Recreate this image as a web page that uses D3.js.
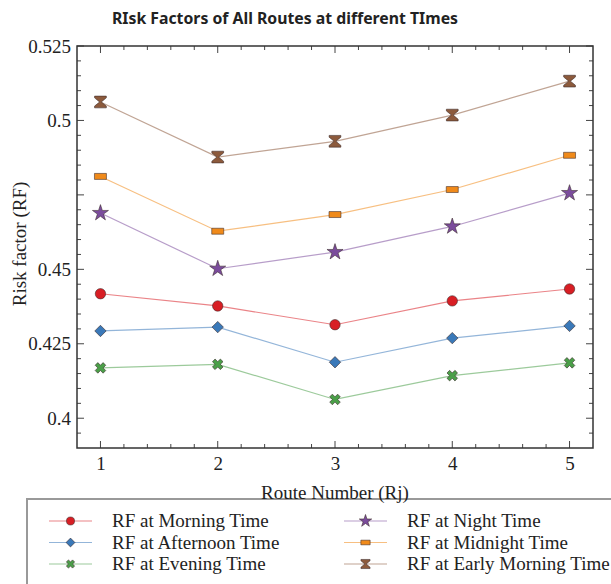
<!DOCTYPE html>
<html>
<head>
<meta charset="utf-8">
<script src="https://cdn.jsdelivr.net/npm/d3@7"></script>
<style>
  body { margin: 0; background: #fff; }
  svg text { fill: #222; }
  .serif { font-family: "Liberation Serif", "Times New Roman", serif; }
</style>
</head>
<body>
<div id="chart"></div>
<script>
// route numbers on the x axis
let routes = [1, 2, 3, 4, 5];

// risk factor per route, one array per time of day
let morning = [0.4418, 0.4377, 0.4314, 0.4394, 0.4434];
let afternoon = [0.4293, 0.4306, 0.4188, 0.4269, 0.4310];
let evening = [0.4169, 0.4181, 0.4063, 0.4143, 0.4186];
let night = [0.4689, 0.4502, 0.4558, 0.4644, 0.4756];
let midnight = [0.4812, 0.4628, 0.4684, 0.4768, 0.4883];
let earlyMorning = [0.5062, 0.4877, 0.4930, 0.5018, 0.5132];

let seriesNames = ["RF at Morning Time", "RF at Afternoon Time", "RF at Evening Time",
  "RF at Night Time", "RF at Midnight Time", "RF at Early Morning Time"];

let yTickLabels = [0.4, 0.425, 0.45, 0.5, 0.525];
let yMajorTicks = [0.4, 0.425, 0.45, 0.475, 0.5, 0.525];

document.addEventListener("DOMContentLoaded", function () {
  let W = 611, H = 584;
  let margin = { top: 46, right: 15, bottom: 136, left: 77 };

  // custom marker shapes
  let rectSym = {
    draw: function (ctx, size) {
      let w = Math.sqrt(size) * 1.3, h = w * 0.5;
      ctx.rect(-w / 2, -h / 2, w, h);
    }
  };
  let hourglassSym = {
    draw: function (ctx, size) {
      let s = Math.sqrt(size) * 0.62;
      ctx.moveTo(-s, -s); ctx.lineTo(s, -s); ctx.lineTo(s, -s * 0.7);
      ctx.lineTo(s * 0.15, 0); ctx.lineTo(s, s * 0.7); ctx.lineTo(s, s);
      ctx.lineTo(-s, s); ctx.lineTo(-s, s * 0.7); ctx.lineTo(-s * 0.15, 0);
      ctx.lineTo(-s, -s * 0.7); ctx.closePath();
    }
  };

  let series = [
    { name: seriesNames[0], values: morning, color: "#d81e24", sym: d3.symbolCircle, size: 85, rot: 0 },
    { name: seriesNames[1], values: afternoon, color: "#3a79b9", sym: d3.symbolSquare, size: 65, rot: 45 },
    { name: seriesNames[2], values: evening, color: "#4a9f48", sym: d3.symbolCross, size: 70, rot: 45 },
    { name: seriesNames[3], values: night, color: "#7b4c9c", sym: d3.symbolStar, size: 80, rot: 0 },
    { name: seriesNames[4], values: midnight, color: "#f08a1a", sym: rectSym, size: 85, rot: 0 },
    { name: seriesNames[5], values: earlyMorning, color: "#8c5a3c", sym: hourglassSym, size: 90, rot: 0 }
  ];

  let svg = d3.select("#chart").append("svg")
    .attr("width", W)
    .attr("height", H);

  let x = d3.scaleLinear()
    .domain([0.8, 5.2])
    .range([margin.left, W - margin.right - 3]);

  let y = d3.scaleLinear()
    .domain([0.39, 0.525])
    .range([H - margin.bottom, margin.top]);

  let xMinor = d3.range(1, 5.2, 0.2).map(d => Math.round(d * 10) / 10).filter(d => routes.indexOf(d) < 0);
  let yMinor = d3.range(0.395, 0.525, 0.005).map(d => Math.round(d * 1000) / 1000)
    .filter(d => yMajorTicks.indexOf(d) < 0);

  let x0 = x.range()[0], x1 = x.range()[1], y0 = y.range()[0], y1 = y.range()[1];

  // ticks on all four sides, pointing inward
  let tickG = svg.append("g").attr("stroke", "#444").attr("stroke-width", 1);
  let drawTicks = function (vals, len) {
    vals.forEach(v => {
      tickG.append("line").attr("x1", x(v)).attr("x2", x(v)).attr("y1", y0).attr("y2", y0 - len);
      tickG.append("line").attr("x1", x(v)).attr("x2", x(v)).attr("y1", y1).attr("y2", y1 + len);
    });
  };
  let drawYTicks = function (vals, len) {
    vals.forEach(v => {
      tickG.append("line").attr("x1", x0).attr("x2", x0 + len).attr("y1", y(v)).attr("y2", y(v));
      tickG.append("line").attr("x1", x1).attr("x2", x1 - len).attr("y1", y(v)).attr("y2", y(v));
    });
  };
  drawTicks(xMinor, 4);
  drawTicks(routes, 7);
  drawYTicks(yMinor, 4);
  drawYTicks(yMajorTicks, 7);

  // tick labels
  let xAxis = d3.axisBottom(x).tickValues(routes).tickSize(0).tickPadding(9).tickFormat(d3.format("d"));
  svg.append("g")
    .attr("transform", "translate(0," + y0 + ")")
    .call(xAxis)
    .call(g => g.select(".domain").remove())
    .selectAll("text")
    .attr("class", "serif")
    .style("font-size", "19px")
    .style("fill", "#222");

  let yAxis = d3.axisLeft(y).tickValues(yTickLabels).tickSize(0).tickPadding(6).tickFormat(d => String(d));
  svg.append("g")
    .attr("transform", "translate(" + x0 + ",0)")
    .call(yAxis)
    .call(g => g.select(".domain").remove())
    .selectAll("text")
    .attr("class", "serif")
    .style("font-size", "19px")
    .style("fill", "#222");

  // frame
  svg.append("rect")
    .attr("x", x0).attr("y", y1)
    .attr("width", x1 - x0).attr("height", y0 - y1)
    .attr("fill", "none")
    .attr("stroke", "#333")
    .attr("stroke-width", 1.5);

  let line = d3.line()
    .x((d, i) => x(routes[i]))
    .y(d => y(d));

  series.forEach(s => {
    svg.append("path")
      .datum(s.values)
      .attr("d", line)
      .attr("fill", "none")
      .attr("stroke", s.color)
      .attr("stroke-opacity", 0.55)
      .attr("stroke-width", 1.2);

    svg.selectAll(null)
      .data(s.values)
      .enter().append("path")
      .attr("d", d3.symbol().type(s.sym).size(s.size))
      .attr("transform", (d, i) => "translate(" + x(routes[i]) + "," + y(d) + ") rotate(" + s.rot + ")")
      .attr("fill", s.color)
      .attr("stroke", "#3a2a2a")
      .attr("stroke-opacity", 0.7)
      .attr("stroke-width", 0.8);
  });

  // title
  svg.append("text")
    .attr("x", 285)
    .attr("y", 24)
    .attr("text-anchor", "middle")
    .attr("textLength", 346)
    .attr("lengthAdjust", "spacingAndGlyphs")
    .style("font-family", "'Noto Sans', 'Open Sans', sans-serif")
    .style("font-weight", "bold")
    .style("font-size", "16px")
    .text("RIsk Factors of All Routes at different TImes");

  // y label
  svg.append("text")
    .attr("class", "serif")
    .attr("transform", "translate(26," + 244 + ") rotate(-90)")
    .attr("text-anchor", "middle")
    .style("font-size", "19px")
    .text("Risk factor (RF)");

  // legend box
  svg.append("rect")
    .attr("x", 27).attr("y", 499)
    .attr("width", 620).attr("height", 110)
    .attr("fill", "none")
    .attr("stroke", "#999")
    .attr("stroke-width", 2);

  // x label sits over the legend border
  svg.append("text")
    .attr("class", "serif")
    .attr("x", (x0 + x1) / 2)
    .attr("y", 499)
    .attr("text-anchor", "middle")
    .style("font-size", "19px")
    .text("Route Number (Rj)");

  let legend = svg.append("g");
  series.forEach((s, i) => {
    let col = Math.floor(i / 3), row = i % 3;
    let lx = col == 0 ? 49 : 344, ly = 521 + row * 21.5;
    let g = legend.append("g").attr("transform", "translate(" + lx + "," + ly + ")");
    g.append("line")
      .attr("x1", 0).attr("x2", 43)
      .attr("stroke", s.color)
      .attr("stroke-opacity", 0.55)
      .attr("stroke-width", 1.2);
    g.append("path")
      .attr("d", d3.symbol().type(s.sym).size(s.size * 0.6))
      .attr("transform", "translate(21.5,0) rotate(" + s.rot + ")")
      .attr("fill", s.color)
      .attr("stroke", "#3a2a2a")
      .attr("stroke-opacity", 0.7)
      .attr("stroke-width", 0.8);
    g.append("text")
      .attr("class", "serif")
      .attr("x", 63)
      .attr("dy", "0.33em")
      .style("font-size", "19px")
      .text(s.name);
  });
});
</script>
</body>
</html>
